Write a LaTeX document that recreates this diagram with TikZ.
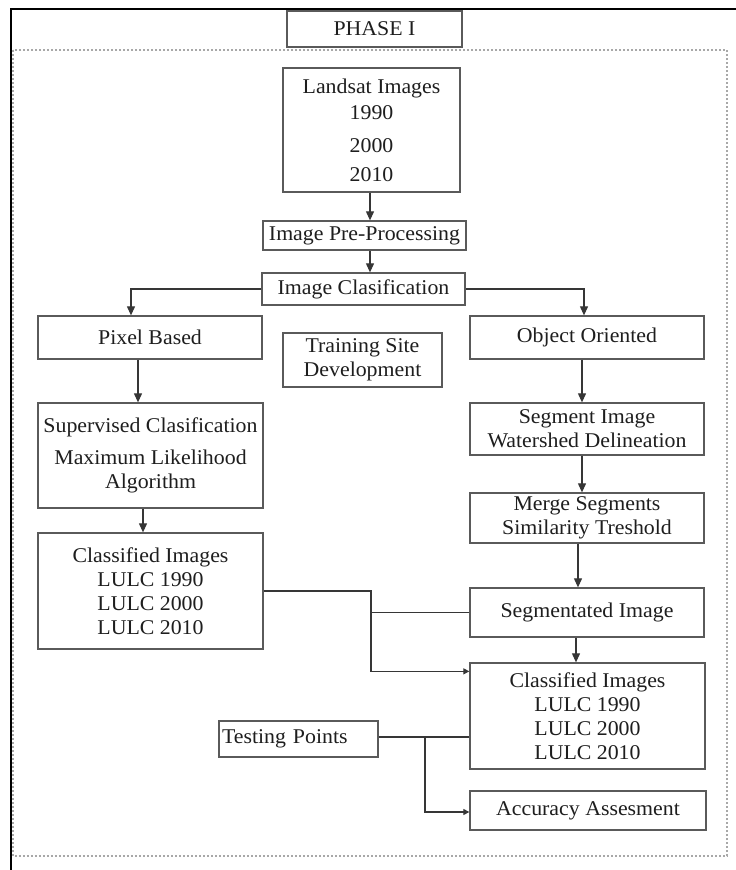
\documentclass[tikz,border=0pt]{standalone}
\usepackage{fontspec}
\setmainfont[FakeStretch=1.04]{Liberation Serif}
\usetikzlibrary{arrows.meta}
\definecolor{ink}{HTML}{1E1E1E}
\definecolor{edge}{HTML}{5A5A5A}
\definecolor{wire}{HTML}{363636}
\definecolor{dots}{HTML}{A8A8A8}
\tikzset{
  box/.style={draw=edge, line width=1.3pt, rectangle, inner sep=0pt, align=center,
    text=ink, font=\fontsize{21}{24}\selectfont},
  arr/.style={draw=wire, line width=1.1pt, -{Triangle[length=9pt,width=8pt]}},
  arrs/.style={draw=wire, line width=1.1pt, -{Triangle[length=6pt,width=6pt]}},
  wireline/.style={draw=wire, line width=1.1pt},
}
\begin{document}
\begin{tikzpicture}[x=1pt, y=-1pt]
\useasboundingbox (0,0) rectangle (736,870);
\fill[white] (0,0) rectangle (736,870);

% outer frame: solid top/left rule and dotted panel
\draw[black, line width=2pt] (11,870) -- (11,9) -- (736,9);
\draw[dots, dotted, line width=2pt] (13,50) rectangle (727,856);

% boxes
\node[box, minimum width=175pt, minimum height=36pt, fill=white] (phase) at (374.5,29) {PHASE I};
\node[box, minimum width=177pt, minimum height=124pt] (landsat) at (371.5,130)
  {Landsat Images\\[2pt]1990\\[9pt]2000\\[5pt]2010};
\node[box, minimum width=203pt, minimum height=29pt] (prep) at (364.5,235.5) {Image Pre-Processing};
\node[box, minimum width=203pt, minimum height=32pt] (clas) at (363.5,289) {Image Clasification};
\node[box, minimum width=224pt, minimum height=43pt] (pixel) at (150,337.5) {Pixel Based};
\node[box, minimum width=159pt, minimum height=54pt] (train) at (362.5,360) {Training Site\\Development};
\node[box, minimum width=234pt, minimum height=43pt] (object) at (587,337.5) {Object Oriented};
\node[box, minimum width=225pt, minimum height=105pt] (superv) at (150.5,455.5)
  {Supervised Clasification\\[8pt]Maximum Likelihood\\Algorithm};
\node[box, minimum width=234pt, minimum height=52pt] (segm) at (587,429)
  {Segment Image\\Watershed Delineation};
\node[box, minimum width=234pt, minimum height=50pt] (merge) at (587,518)
  {Merge Segments\\Similarity Treshold};
\node[box, minimum width=225pt, minimum height=116pt] (classL) at (150.5,591)
  {Classified Images\\LULC 1990\\LULC 2000\\LULC 2010};
\node[box, minimum width=234pt, minimum height=49pt] (segd) at (587,612.5) {Segmentated Image};
\node[box, minimum width=235pt, minimum height=106pt] (classR) at (587.5,716)
  {Classified Images\\LULC 1990\\LULC 2000\\LULC 2010};
\node[box, minimum width=159pt, minimum height=36pt, align=left, text width=153pt,
  inner xsep=3pt] (test) at (298.5,739) {Testing Points};
\node[box, minimum width=236pt, minimum height=39pt] (acc) at (588,810.5) {Accuracy Assesment};

% junction columns
\coordinate (jL) at (371,0);
\coordinate (jT) at (425,0);

% connectors
\draw[arr] ([xshift=-1.5pt]landsat.south) -- ([xshift=-1.5pt]landsat.south |- prep.north);
\draw[arr] ([xshift=-1.5pt]landsat.south |- prep.south) -- ([xshift=-1.5pt]landsat.south |- clas.north);
\draw[arr] (clas.west) -| ([xshift=-19pt]pixel.north);
\draw[arr] (clas.east) -| ([xshift=-3pt]object.north);
\draw[arr] ([xshift=-12pt]pixel.south) -- ([xshift=-12pt]pixel.south |- superv.north);
\draw[arr] ([xshift=-5pt]object.south) -- ([xshift=-5pt]object.south |- segm.north);
\draw[arr] ([xshift=-7.5pt]superv.south) -- ([xshift=-7.5pt]superv.south |- classL.north);
\draw[arr] ([xshift=-5pt]segm.south) -- ([xshift=-5pt]segm.south |- merge.north);
\draw[arr] ([xshift=-9pt]merge.south) -- ([xshift=-9pt]merge.south |- segd.north);
\draw[arr] ([xshift=-11pt]segd.south) -- ([xshift=-11pt]segd.south |- classR.north);

\draw[arrs] (classL.east) -- (classL.east -| jL) |- ([yshift=-9pt]classR.north west);
\draw[wireline] (segd.west) -- (segd.west -| jL);

\draw[wireline] ([yshift=2pt]test.east) -- ([yshift=2pt]test.east -| classR.west);
\draw[arrs] ([yshift=2pt]test.east -| jT) |- ([yshift=-1.5pt]acc.west);
\end{tikzpicture}
\end{document}
